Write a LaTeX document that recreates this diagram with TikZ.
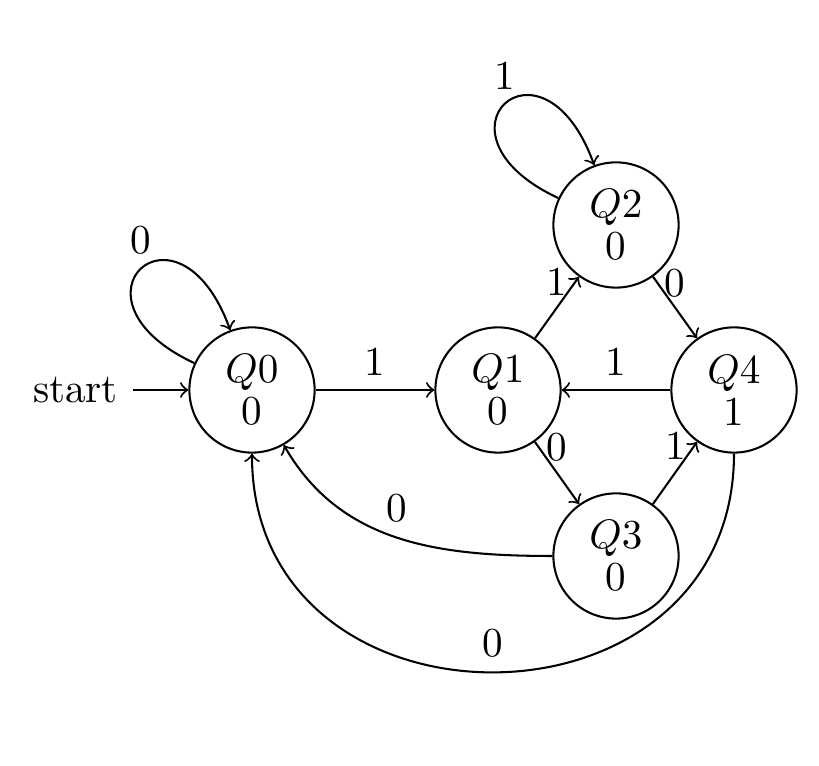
\documentclass[tikz,border=0pt]{standalone}
\begin{document}
\begin{tikzpicture}[x=0.008547cm,y=0.008547cm, >=to, line width=0.5pt,
  stnode/.style={circle, draw, minimum size=1.07cm, inner sep=0pt, align=center},
  lbl/.style={inner sep=3.33pt}]
\useasboundingbox (0,0) rectangle (819,766);
\node[stnode] (Q0) at (252,376) {$Q0$\\[-1.8pt]0};
\node[stnode] (Q1) at (498,376) {$Q1$\\[-1.8pt]0};
\node[stnode] (Q2) at (616,541) {$Q2$\\[-1.8pt]0};
\node[stnode] (Q3) at (616,210) {$Q3$\\[-1.8pt]0};
\node[stnode] (Q4) at (734,376) {$Q4$\\[-1.8pt]1};
\node (startlbl) at (75.5,376) {start};
\coordinate (s0) at (133,376);
\draw[->] (s0) -- (Q0);
\path[->,draw]
  (Q0) edge[out=155,in=110,looseness=8,min distance=5mm] node[lbl,above] {0} (Q0)
  (Q2) edge[out=155,in=110,looseness=8,min distance=5mm] node[lbl,above] {1} (Q2)
  (Q0) edge node[lbl,above] {1} (Q1)
  (Q4) edge node[lbl,above] {1} (Q1)
  (Q1) edge node[lbl,pos=0.92,xshift=-4.6pt] {1} (Q2)
  (Q2) edge node[lbl,pos=0.11,xshift=4.0pt] {0} (Q4)
  (Q1) edge node[lbl,pos=0.093,xshift=4.4pt] {0} (Q3)
  (Q3) edge node[lbl,pos=0.943,xshift=-4.6pt] {1} (Q4)
  (Q3) edge[out=180,in=-60] node[lbl,above] {0} (Q0)
  (Q4) edge[out=-90,in=-90,looseness=1.55] node[lbl,above] {0} (Q0);
\end{tikzpicture}
\end{document}
